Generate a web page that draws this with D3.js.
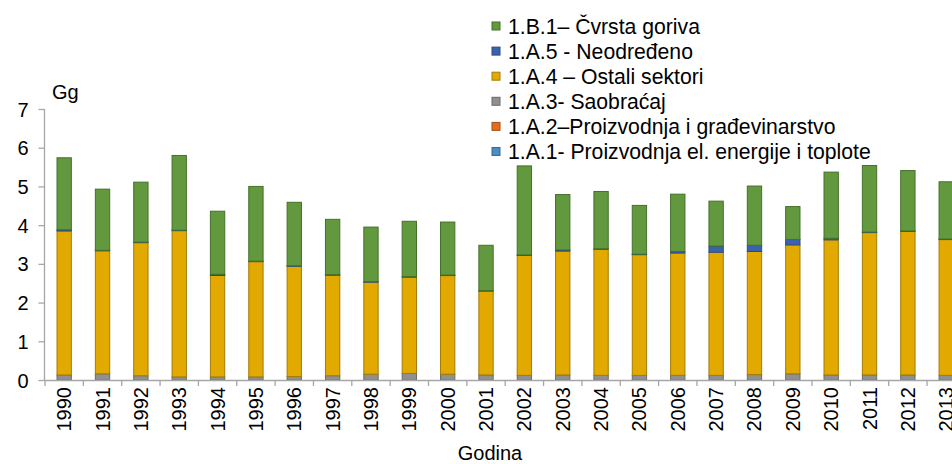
<!DOCTYPE html>
<html>
<head>
<meta charset="utf-8">
<script src="https://cdn.jsdelivr.net/npm/d3@7"></script>
<style>
  body { margin: 0; background: #fff; }
  svg { font-family: 'Liberation Sans', Arial, sans-serif; }
</style>
</head>
<body>
<svg width="952" height="464"></svg>
<script>
(function (d3) {
  'use strict';

  // years on the x axis
  const years = ['1990', '1991', '1992', '1993', '1994', '1995', '1996', '1997', '1998', '1999', '2000', '2001',
    '2002', '2003', '2004', '2005', '2006', '2007', '2008', '2009', '2010', '2011', '2012', '2013'];

  // values in Gg, bottom series first
  const a1 = [0, 0, 0, 0, 0, 0, 0, 0, 0, 0, 0, 0, 0, 0, 0, 0, 0, 0, 0, 0, 0, 0, 0, 0];
  const a2 = [0, 0, 0, 0, 0, 0, 0, 0, 0, 0, 0, 0, 0, 0, 0, 0, 0, 0, 0, 0, 0, 0, 0, 0];
  const a3 = [0.13, 0.16, 0.11, 0.08, 0.08, 0.08, 0.09, 0.11, 0.15, 0.17, 0.15, 0.13,
    0.12, 0.13, 0.12, 0.12, 0.12, 0.12, 0.14, 0.16, 0.13, 0.13, 0.13, 0.12];
  const a4 = [3.72, 3.18, 3.44, 3.78, 2.62, 2.98, 2.85, 2.60, 2.38, 2.49, 2.55, 2.17,
    3.10, 3.20, 3.26, 3.12, 3.16, 3.18, 3.18, 3.33, 3.49, 3.68, 3.71, 3.51];
  const a5 = [0.03, 0.01, 0.01, 0.01, 0.03, 0.01, 0.01, 0.01, 0.01, 0.01, 0.01, 0.01,
    0.01, 0.03, 0.01, 0.01, 0.04, 0.16, 0.16, 0.14, 0.04, 0.01, 0.01, 0.01];
  const b1 = [1.86, 1.58, 1.55, 1.93, 1.63, 1.93, 1.64, 1.43, 1.41, 1.43, 1.37, 1.17,
    2.30, 1.43, 1.48, 1.26, 1.48, 1.16, 1.53, 0.85, 1.71, 1.72, 1.56, 1.48];

  const yTicks = [0, 1, 2, 3, 4, 5, 6, 7];

  const series = [
    { key: 'a1', name: '1.A.1- Proizvodnja el. energije i toplote', values: a1, fill: '#4a8cc4', stroke: '#35699a' },
    { key: 'a2', name: '1.A.2–Proizvodnja i građevinarstvo', values: a2, fill: '#e46c1e', stroke: '#a84f12' },
    { key: 'a3', name: '1.A.3- Saobraćaj', values: a3, fill: '#909090', stroke: '#6a6a6a' },
    { key: 'a4', name: '1.A.4 – Ostali sektori', values: a4, fill: '#e2a900', stroke: '#a57c05' },
    { key: 'a5', name: '1.A.5 - Neodređeno', values: a5, fill: '#3a62ad', stroke: '#2a4a85' },
    { key: 'b1', name: '1.B.1– Čvrsta goriva', values: b1, fill: '#62993e', stroke: '#44712a' }
  ];

  const table = years.map((yr, i) => {
    const row = { year: yr };
    series.forEach(s => { row[s.key] = s.values[i]; });
    return row;
  });

  const svg = d3.select('svg');
  const left = 45, top = 109, bottom = 380;
  const step = 38.35;

  const x = d3.scaleBand()
    .domain(years)
    .range([left, left + step * years.length])
    .paddingInner(0.6)
    .paddingOuter(0.3);

  const y = d3.scaleLinear()
    .domain([0, 7])
    .range([bottom, top]);

  const stack = d3.stack().keys(series.map(s => s.key));
  const layers = stack(table);

  const g = svg.append('g');

  g.selectAll('g.layer')
    .data(layers)
    .enter()
    .append('g')
    .attr('class', 'layer')
    .attr('fill', (d, i) => series[i].fill)
    .attr('stroke', (d, i) => series[i].stroke)
    .attr('stroke-width', 1)
    .selectAll('rect')
    .data(d => d.filter(p => p[1] - p[0] > 0))
    .enter()
    .append('rect')
    .attr('x', d => x(d.data.year) + 0.5)
    .attr('width', x.bandwidth() - 1)
    .attr('y', d => y(d[1]))
    .attr('height', d => Math.max(0.5, y(d[0]) - y(d[1])));

  // y axis
  const yAxis = svg.append('g')
    .attr('transform', `translate(${left - 0.5},0)`)
    .call(d3.axisLeft(y).tickValues(yTicks).tickSize(6).tickPadding(10).tickFormat(d3.format('d')));
  yAxis.selectAll('path, line').attr('stroke', '#a6a6a6').attr('stroke-width', 1.3);
  yAxis.selectAll('text').attr('font-size', 20).attr('fill', '#000').attr('dy', '0.35em');
  yAxis.select('.domain').attr('d', `M0,${top}V${bottom}`);

  // x axis line and ticks on band edges
  const xg = svg.append('g');
  xg.append('line')
    .attr('x1', left - 0.5).attr('x2', 952)
    .attr('y1', bottom + 0.5).attr('y2', bottom + 0.5)
    .attr('stroke', '#a6a6a6').attr('stroke-width', 1.3);
  xg.selectAll('line.tick')
    .data(years)
    .enter()
    .append('line')
    .attr('class', 'tick')
    .attr('x1', d => x(d) - x.step() * 0.3)
    .attr('x2', d => x(d) - x.step() * 0.3)
    .attr('y1', bottom)
    .attr('y2', bottom + 6)
    .attr('stroke', '#a6a6a6').attr('stroke-width', 1.3);

  xg.selectAll('text.year')
    .data(years)
    .enter()
    .append('text')
    .attr('class', 'year')
    .attr('transform', d => `translate(${x(d) + x.bandwidth() / 2 + 7},${bottom + 7}) rotate(-90)`)
    .attr('text-anchor', 'end')
    .attr('font-size', 20)
    .attr('fill', '#000')
    .text(d => d);

  svg.append('text')
    .attr('x', 52).attr('y', 99)
    .attr('font-size', 20)
    .attr('fill', '#000')
    .text('Gg');

  svg.append('text')
    .attr('x', 490).attr('y', 460)
    .attr('text-anchor', 'middle')
    .attr('font-size', 20)
    .attr('fill', '#000')
    .text('Godina');

  // legend, top entry is the top series
  const legend = svg.append('g').attr('transform', 'translate(492,26)');
  const items = legend.selectAll('g')
    .data(series.slice().reverse())
    .enter()
    .append('g')
    .attr('transform', (d, i) => `translate(0,${i * 25.1})`);
  items.append('rect')
    .attr('x', 0).attr('y', -4)
    .attr('width', 8).attr('height', 8)
    .attr('fill', d => d.fill)
    .attr('stroke', d => d.stroke);
  items.append('text')
    .attr('x', 16).attr('y', 0)
    .attr('dy', '0.36em')
    .attr('font-size', 21.2)
    .attr('fill', '#000')
    .text(d => d.name);

}(d3));
</script>
</body>
</html>
